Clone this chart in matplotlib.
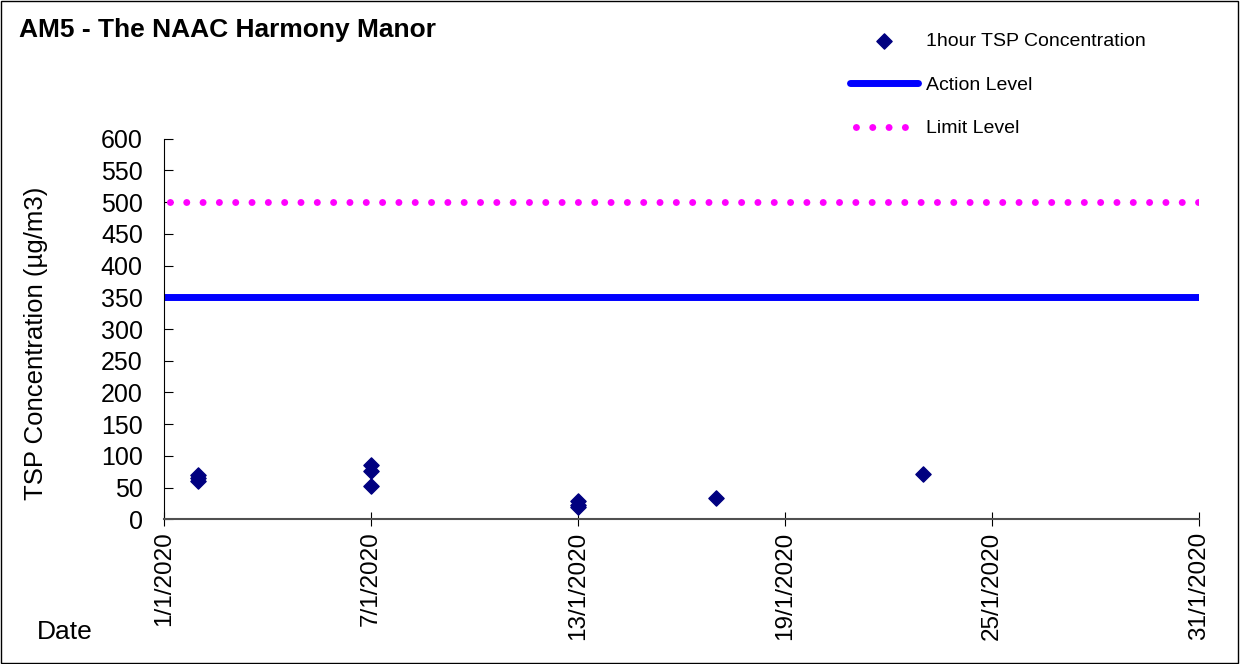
import matplotlib
matplotlib.use("Agg")
import matplotlib.pyplot as plt
import matplotlib.dates as mdates
from matplotlib.patches import Rectangle
import numpy as np
import pandas as pd

plt.rcParams['font.family'] = ['Liberation Sans', 'DejaVu Sans']

# 1-hour TSP readings
dates = ["2020-01-02", "2020-01-02", "2020-01-02",
         "2020-01-07", "2020-01-07", "2020-01-07",
         "2020-01-13", "2020-01-13", "2020-01-13",
         "2020-01-17", "2020-01-23"]
tsp = [60, 65, 69, 85, 76, 52, 28, 22, 20, 33, 71]

action_level = 350
limit_level = 500
x_start = "2020-01-01"
x_end = "2020-01-31"
tick_dates = ["2020-01-01", "2020-01-07", "2020-01-13", "2020-01-19",
              "2020-01-25", "2020-01-31"]

dates = pd.to_datetime(dates)
x0, x1 = pd.to_datetime(x_start), pd.to_datetime(x_end)

fig = plt.figure(figsize=(12.4, 6.64), dpi=100)
fig.patches.append(Rectangle((0.001, 0.001), 0.997, 0.997, transform=fig.transFigure,
                             fill=False, edgecolor='black', linewidth=1))
ax = fig.add_axes([0.132, 0.218, 0.835, 0.573])

ax.scatter(dates, tsp, marker='D', s=60, color='#000080', zorder=3,
           label='1hour TSP Concentration')
ax.plot([x0, x1], [action_level, action_level], color='#0000FF', linewidth=5,
        solid_capstyle='round', label='Action Level')
ax.plot([x0, x1], [limit_level, limit_level], color='#FF00FF', linewidth=5,
        linestyle=(1.5, (0.01, 2.34)), dash_capstyle='round', label='Limit Level')

ax.set_xlim(x0, x1)
ax.set_ylim(0, 600)
ax.set_yticks(np.arange(0, 601, 50))
ax.set_xticks(pd.to_datetime(tick_dates))
ax.xaxis.set_major_formatter(
    matplotlib.ticker.FuncFormatter(lambda v, p: "{0.day}/{0.month}/{0.year}".format(mdates.num2date(v))))
plt.setp(ax.get_xticklabels(), rotation=90)
ax.tick_params(axis='y', labelsize=18, length=6.5, direction='in', pad=15)
ax.tick_params(axis='x', labelsize=17.5, length=10, direction='inout', pad=4)

for s in ['top', 'right']:
    ax.spines[s].set_visible(False)
ax.spines['bottom'].set_color('#505050')
ax.spines['bottom'].set_linewidth(1.5)

ax.set_ylabel('TSP Concentration (µg/m3)', fontsize=18.5)
ax.yaxis.set_label_coords(-0.112, 0.463)

fig.text(0.015, 0.955, 'AM5 - The NAAC Harmony Manor', fontsize=19, fontweight='bold',
         va='center')
fig.text(0.03, 0.048, 'Date', fontsize=19, va='center')

fig.legend(loc='upper left', bbox_to_anchor=(0.671, 0.977), frameon=False,
           fontsize=14, labelspacing=1.33, handlelength=3.5, handletextpad=0.45)

fig.savefig('out.png', dpi=100)
